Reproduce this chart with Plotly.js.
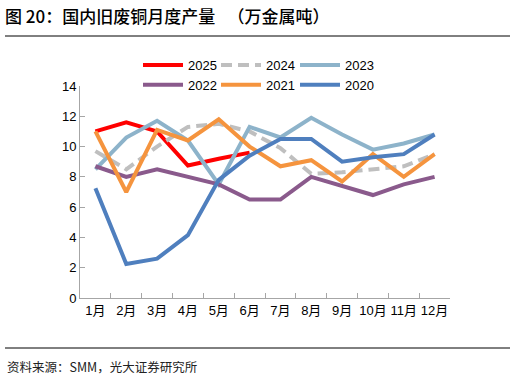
<!DOCTYPE html>
<html>
<head>
<meta charset="utf-8">
<script src="https://cdn.plot.ly/plotly-3.0.1.min.js"></script>
<style>html,body{margin:0;padding:0;background:#fff;}#chart{width:515px;height:381px;}</style>
</head>
<body>
<div id="chart"></div>
<script>
const months = ["1月","2月","3月","4月","5月","6月","7月","8月","9月","10月","11月","12月"];
const y2025 = [11.0, 11.6, 11.0, 8.75, 9.2, 9.6];
const y2024 = [9.7, 8.5, 10.0, 11.3, 11.5, 11.0, 9.9, 8.2, 8.3, 8.5, 8.7, 9.5];
const y2023 = [8.5, 10.6, 11.7, 10.4, 7.5, 11.3, 10.6, 11.9, 10.8, 9.8, 10.2, 10.8];
const y2022 = [8.7, 8.0, 8.5, 8.0, 7.5, 6.5, 6.5, 8.0, 7.4, 6.8, 7.5, 8.0];
const y2021 = [11.0, 7.0, 11.1, 10.4, 11.8, 10.0, 8.7, 9.1, 7.7, 9.5, 8.0, 9.5];
const y2020 = [7.25, 2.25, 2.6, 4.15, 7.8, 9.4, 10.5, 10.5, 9.0, 9.3, 9.5, 10.8];
const seriesNames = ["2025","2024","2023","2022","2021","2020"];

const font = "Liberation Sans, Arial, Noto Sans CJK SC, sans-serif";
function tr(name, y, color, dash, leg) {
  return {type:"scatter", mode:"lines", name:name, x:months.slice(0,y.length), y:y, legend:leg,
    line:{color:color, width:4, dash:dash||"solid"}};
}
const data = [
  tr(seriesNames[0], y2025, "#FF0000", "solid", "legend"),
  tr(seriesNames[1], y2024, "#BFBFBF", "11px,6px", "legend2"),
  tr(seriesNames[2], y2023, "#8DB3CA", "solid", "legend3"),
  tr(seriesNames[3], y2022, "#8A5A8C", "solid", "legend"),
  tr(seriesNames[4], y2021, "#F5943E", "solid", "legend2"),
  tr(seriesNames[5], y2020, "#4F7FBE", "solid", "legend3")
];
const legBase = {orientation:"v", xanchor:"left", yanchor:"top", traceorder:"normal",
  font:{family:font, size:13, color:"#000"}, itemwidth:40, tracegroupgap:0,
  bgcolor:"rgba(0,0,0,0)", y:1+(86-50)/212};
const layout = {
  width:515, height:381,
  margin:{l:80, r:65, t:86, b:83},
  paper_bgcolor:"#fff", plot_bgcolor:"#fff",
  font:{family:font, size:13, color:"#000"},
  title:{text:"图 20：国内旧废铜月度产量 　（万金属吨）", x:5/515, xanchor:"left", y:1-17/381, yanchor:"middle",
    font:{family:"Noto Sans CJK SC, sans-serif", size:17, color:"#000", weight:500}},
  xaxis:{type:"category", showgrid:false, zeroline:false, showline:true, linecolor:"#A6A6A6", linewidth:1,
    ticks:"inside", ticklen:5, tickcolor:"#A6A6A6", tickson:"boundaries", tickangle:0,
    tickfont:{family:font, size:13, color:"#000"}, range:[-0.5, 11.5], fixedrange:true},
  yaxis:{range:[0,14], dtick:2, showgrid:false, zeroline:false, showline:true, linecolor:"#A6A6A6", linewidth:1,
    ticks:"inside", ticklen:5, tickcolor:"#A6A6A6", tickfont:{family:font, size:13, color:"#000"}},
  showlegend:true,
  legend:Object.assign({}, legBase, {x:(138-80)/370}),
  legend2:Object.assign({}, legBase, {x:(216-80)/370}),
  legend3:Object.assign({}, legBase, {x:(295-80)/370}),
  shapes:[
    {type:"line", xref:"paper", yref:"paper", x0:(5-80)/370, x1:(510-80)/370, y0:(298-36)/212, y1:(298-36)/212, line:{color:"#000", width:1}},
    {type:"line", xref:"paper", yref:"paper", x0:(5-80)/370, x1:(510-80)/370, y0:(298-348)/212, y1:(298-348)/212, line:{color:"#000", width:1}}
  ],
  annotations:[
    {text:"资料来源：SMM，光大证券研究所", xref:"paper", yref:"paper", x:(5-80)/370, xanchor:"left",
     y:(298-366)/212, yanchor:"middle", showarrow:false, font:{family:"Noto Sans CJK SC, sans-serif", size:12.5, color:"#222"}}
  ]
};
Plotly.newPlot("chart", data, layout, {staticPlot:true, displayModeBar:false});
</script>
</body>
</html>
